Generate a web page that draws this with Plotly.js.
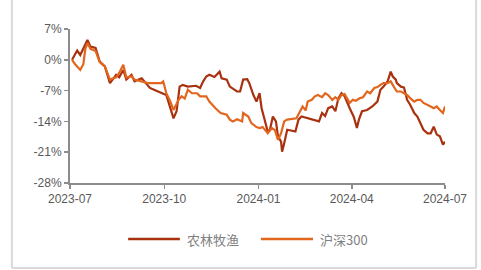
<!DOCTYPE html>
<html><head><meta charset="utf-8">
<script src="https://cdn.plot.ly/plotly-3.0.1.min.js"></script>
<style>html,body{margin:0;padding:0;background:#fff;}#chart{width:481px;height:270px;}</style>
</head><body><div id="chart"></div>
<script>
const seriesNames = ['农林牧渔', '沪深300'];
const seriesColors = ['#a8320f', '#e2661d'];
const agriDates = ['2023-07-03','2023-07-05','2023-07-08','2023-07-11','2023-07-14','2023-07-18','2023-07-21','2023-07-26','2023-07-30','2023-08-04','2023-08-09','2023-08-15','2023-08-18','2023-08-22','2023-08-25','2023-08-30','2023-09-02','2023-09-09','2023-09-13','2023-09-17','2023-09-21','2023-09-28','2023-10-03','2023-10-09','2023-10-10','2023-10-13','2023-10-16','2023-10-19','2023-10-24','2023-11-01','2023-11-05','2023-11-08','2023-11-11','2023-11-14','2023-11-19','2023-11-24','2023-11-26','2023-12-01','2023-12-04','2023-12-11','2023-12-14','2023-12-17','2023-12-21','2023-12-23','2023-12-27','2023-12-30','2024-01-02','2024-01-04','2024-01-07','2024-01-10','2024-01-12','2024-01-15','2024-01-18','2024-01-20','2024-01-23','2024-01-24','2024-01-26','2024-01-29','2024-02-06','2024-02-09','2024-02-12','2024-02-19','2024-02-23','2024-02-29','2024-03-03','2024-03-06','2024-03-09','2024-03-13','2024-03-16','2024-03-19','2024-03-22','2024-03-25','2024-03-30','2024-04-03','2024-04-06','2024-04-08','2024-04-11','2024-04-16','2024-04-21','2024-04-26','2024-04-29','2024-05-02','2024-05-06','2024-05-09','2024-05-11','2024-05-14','2024-05-15','2024-05-19','2024-05-22','2024-05-25','2024-05-28','2024-06-01','2024-06-04','2024-06-07','2024-06-10','2024-06-14','2024-06-17','2024-06-20','2024-06-23','2024-06-26','2024-06-29','2024-07-01'];
const agriValues = [0,0.8,2.1,1.1,2.5,4.5,3.0,2.7,-0.4,-1.5,-5.3,-3.4,-4.0,-2.3,-4.5,-3.4,-4.9,-4.2,-5.3,-6.4,-6.8,-7.6,-8.0,-12.5,-13.3,-11.7,-6.1,-5.7,-6.1,-5.9,-6.4,-4.9,-3.8,-3.4,-3.9,-2.7,-4.2,-4.5,-6.1,-7.2,-7.2,-4.5,-4.4,-5.3,-8.0,-9.5,-7.6,-11.0,-14.0,-16.3,-16.0,-12.9,-14.0,-17.4,-18.6,-20.9,-19.0,-15.9,-16.3,-13.6,-12.9,-13.3,-13.5,-14.0,-12.1,-12.8,-11.0,-10.6,-11.7,-8.7,-7.6,-8.3,-11.0,-13.0,-15.5,-13.6,-11.7,-11.4,-10.6,-9.5,-6.8,-6.1,-4.9,-2.7,-3.8,-4.5,-5.3,-6.1,-6.3,-9.1,-10.2,-12.1,-12.9,-14.4,-15.9,-16.7,-16.7,-15.2,-17.0,-17.4,-19.3,-18.6];
const hs300Dates = ['2023-07-03','2023-07-06','2023-07-11','2023-07-14','2023-07-16','2023-07-18','2023-07-21','2023-07-26','2023-07-30','2023-08-04','2023-08-09','2023-08-15','2023-08-18','2023-08-22','2023-08-25','2023-08-30','2023-09-02','2023-09-09','2023-09-15','2023-09-28','2023-09-30','2023-10-03','2023-10-07','2023-10-10','2023-10-15','2023-10-18','2023-10-21','2023-10-24','2023-10-28','2023-11-02','2023-11-05','2023-11-11','2023-11-14','2023-11-20','2023-11-25','2023-12-01','2023-12-04','2023-12-07','2023-12-11','2023-12-16','2023-12-17','2023-12-22','2023-12-25','2023-12-30','2024-01-02','2024-01-05','2024-01-08','2024-01-10','2024-01-14','2024-01-17','2024-01-20','2024-01-23','2024-01-26','2024-01-29','2024-02-07','2024-02-10','2024-02-13','2024-02-16','2024-02-18','2024-02-22','2024-02-25','2024-02-28','2024-03-03','2024-03-06','2024-03-09','2024-03-13','2024-03-16','2024-03-19','2024-03-22','2024-03-25','2024-03-30','2024-04-02','2024-04-05','2024-04-09','2024-04-12','2024-04-16','2024-04-19','2024-04-23','2024-04-26','2024-04-29','2024-05-02','2024-05-06','2024-05-09','2024-05-12','2024-05-15','2024-05-19','2024-05-22','2024-05-25','2024-05-28','2024-06-01','2024-06-04','2024-06-07','2024-06-10','2024-06-14','2024-06-17','2024-06-20','2024-06-23','2024-06-26','2024-06-29','2024-07-01'];
const hs300Values = [0,-1.0,-2.3,-1.0,2.5,3.8,2.5,2.0,-0.5,-1.5,-4.5,-4.0,-3.0,-1.1,-4.0,-3.8,-4.5,-4.9,-5.3,-5.3,-4.9,-7.6,-9.5,-11.4,-9.1,-8.3,-8.8,-6.8,-7.6,-7.6,-8.3,-8.3,-9.5,-11.0,-12.1,-12.5,-13.6,-14.0,-13.5,-14.0,-12.1,-12.9,-14.4,-15.3,-15.5,-15.3,-16.0,-16.7,-15.5,-16.0,-18.2,-16.7,-14.0,-13.6,-13.3,-12.1,-10.6,-11.5,-9.5,-9.1,-8.3,-8.0,-8.5,-7.6,-8.0,-9.1,-8.5,-9.1,-8.0,-7.8,-9.8,-9.1,-9.3,-8.7,-8.5,-7.2,-7.6,-6.4,-6.2,-5.7,-5.3,-5.3,-4.9,-6.1,-7.2,-7.2,-7.6,-8.0,-8.7,-9.5,-9.1,-9.1,-9.8,-10.2,-10.6,-11.0,-10.6,-11.4,-12.1,-10.6];
const xTickVals = ['2023-07-01','2023-10-01','2024-01-01','2024-04-01','2024-07-01'];
const xTickText = ['2023-07','2023-10','2024-01','2024-04','2024-07'];
const yTickVals = [7,0,-7,-14,-21,-28];
const yTickText = ['7%','0%','-7%','-14%','-21%','-28%'];

const FONT = 'Liberation Sans, Arial, Noto Sans CJK SC, sans-serif';
const traces = [
  {x: agriDates, y: agriValues, name: seriesNames[0], type: 'scatter', mode: 'lines',
   line: {color: seriesColors[0], width: 2.2}},
  {x: hs300Dates, y: hs300Values, name: seriesNames[1], type: 'scatter', mode: 'lines',
   line: {color: seriesColors[1], width: 2.2}}
];
// custom legend (paper coords)
const legendY = -0.364;
const legendItems = [{x0: 0.155, x1: 0.293, tx: 0.307}, {x0: 0.509, x1: 0.648, tx: 0.660}];
const shapes = [
  {type: 'line', xref: 'paper', yref: 'paper', x0: -0.155, x1: -0.155, y0: 1.3, y1: -0.552, line: {color: '#d9d9d9', width: 2}},
  {type: 'line', xref: 'paper', yref: 'paper', x0: 1.083, x1: 1.083, y0: 1.3, y1: -0.552, line: {color: '#d9d9d9', width: 2}},
  {type: 'line', xref: 'paper', yref: 'paper', x0: -0.155, x1: 1.083, y0: -0.552, y1: -0.552, line: {color: '#d9d9d9', width: 2}}
];
const annotations = [];
legendItems.forEach((it, i) => {
  shapes.push({type: 'line', xref: 'paper', yref: 'paper', x0: it.x0, x1: it.x1, y0: legendY, y1: legendY,
               line: {color: seriesColors[i], width: 2.5}});
  annotations.push({xref: 'paper', yref: 'paper', x: it.tx, y: legendY, xanchor: 'left', yanchor: 'middle',
                    text: seriesNames[i], showarrow: false,
                    font: {family: 'Noto Sans CJK SC, Liberation Sans, sans-serif', size: 13, color: '#7f7f7f'}});
});
const layout = {
  width: 481, height: 270,
  margin: {l: 70, r: 36, t: 29, b: 87},
  paper_bgcolor: '#fff', plot_bgcolor: '#fff',
  font: {family: FONT, size: 12, color: '#595959'},
  showlegend: false,
  xaxis: {type: 'date', range: ['2023-07-01','2024-07-01'], tickmode: 'array', tickvals: xTickVals, ticktext: xTickText,
          showgrid: false, zeroline: false, showline: true, linecolor: '#8c8c8c', linewidth: 2,
          ticks: 'outside', ticklen: 4, tickcolor: '#8c8c8c', tickwidth: 1.5,
          tickfont: {family: FONT, size: 12, color: '#595959'}, fixedrange: true},
  yaxis: {range: [-28, 7], tickmode: 'array', tickvals: yTickVals, ticktext: yTickText,
          showgrid: false, zeroline: false, showline: true, linecolor: '#8c8c8c', linewidth: 2,
          ticks: 'outside', ticklen: 4, tickcolor: '#8c8c8c', tickwidth: 1.5,
          tickfont: {family: FONT, size: 12, color: '#595959'}, fixedrange: true},
  shapes: shapes,
  annotations: annotations
};
Plotly.newPlot('chart', traces, layout, {staticPlot: true, displayModeBar: false});
</script></body></html>
